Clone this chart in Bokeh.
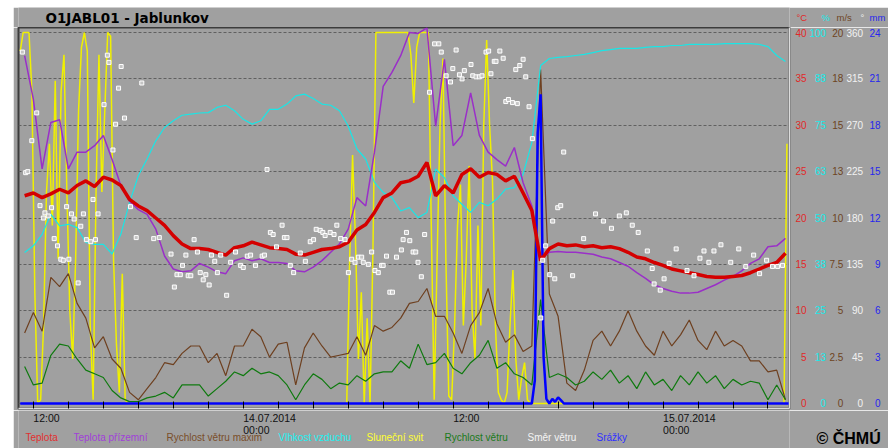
from bokeh.plotting import figure
from bokeh.layouts import column
from bokeh.models import Range1d, LinearAxis, FixedTicker, Label
from bokeh.embed import file_html
from bokeh.resources import INLINE

# ---------------- data: hours since 13.07.2014 00:00 ----------------
# 30-minute series
hours = [11.5 + 0.5 * i for i in range(88)]

teplota = [22.4, 22.7, 22.2, 22.6, 23.1, 22.7, 23.5, 24.0, 23.4, 24.4,
           24.1, 23.5, 22.0, 21.3, 20.8, 20.0, 19.2, 18.1, 17.2, 16.7,
           16.7, 16.6, 16.3, 16.0, 16.8, 17.0, 17.4, 17.1, 16.8, 16.7,
           16.6, 16.1, 16.0, 16.3, 16.6, 16.7, 16.9, 17.4, 18.7, 19.3,
           20.6, 22.2, 22.7, 23.8, 24.0, 24.5, 26.0, 22.4, 23.5, 22.7,
           24.7, 25.3, 24.4, 24.9, 24.7, 24.0, 24.5, 22.7, 20.8, 15.4,
           16.7, 17.2, 17.0, 17.1, 16.9, 17.0, 16.8, 16.9, 16.7, 16.3,
           15.8, 15.6, 15.2, 14.9, 14.5, 14.3, 14.1, 13.9, 13.7, 13.6,
           13.6, 13.7, 13.8, 14.1, 14.5, 14.9, 15.2, 16.2]

teplota_prizemni = [37.5, 32.8, 25.3, 30.3, 30.6, 25.3, 27.1, 27.1, 27.8, 28.9,
                    26.3, 23.5, 21.8, 20.9, 20.4, 18.8, 15.9, 14.5, 14.2, 14.3,
                    15.1, 14.7, 14.2, 14.0, 15.4, 15.7, 15.4, 15.6, 15.2, 15.2,
                    15.1, 14.3, 14.2, 14.7, 15.4, 16.3, 17.2, 18.8, 22.2, 21.3,
                    27.1, 34.2, 35.7, 37.5, 40.0, 39.9, 40.5, 29.9, 37.1, 27.8,
                    28.9, 33.5, 28.9, 27.1, 26.3, 25.6, 27.6, 23.8, 21.3, 15.6,
                    16.3, 16.4, 16.3, 16.3, 16.2, 16.1, 15.8, 15.6, 15.2, 14.8,
                    14.1, 13.5, 12.8, 12.4, 12.1, 11.9, 11.9, 12.0, 12.4, 12.8,
                    13.3, 13.7, 14.3, 15.1, 15.6, 16.9, 17.0, 17.8]

vlhkost = [40.7, 42.5, 45.6, 51.0, 47.9, 48.3, 47.4, 43.4, 42.9, 42.9,
           40.3, 45.6, 54.2, 61.4, 65.9, 70.8, 74.4, 76.2, 77.7, 78.0,
           78.3, 78.4, 79.8, 80.4, 78.9, 76.6, 75.3, 76.2, 79.3, 79.3,
           80.7, 82.9, 83.4, 82.2, 80.7, 80.4, 78.9, 74.8, 68.6, 65.9,
           59.6, 56.9, 55.5, 51.9, 52.8, 50.1, 51.5, 63.2, 60.9, 56.0,
           53.7, 51.5, 54.2, 53.3, 55.1, 57.8, 58.2, 61.8, 70.4, 91.1,
           93.0, 93.3, 93.5, 93.8, 94.1, 94.6, 95.1, 95.4, 95.7, 95.7,
           95.7, 96.0, 96.2, 96.2, 96.5, 96.5, 96.8, 96.8, 96.8, 96.8,
           97.0, 97.0, 97.0, 97.0, 96.8, 96.2, 93.8, 92.2]

vitr_max = [3.8, 4.9, 3.9, 6.8, 6.3, 7.0, 5.4, 4.6, 3.0, 3.6,
            2.4, 1.9, 0.6, 0.2, 0.8, 1.4, 2.2, 2.1, 2.7, 3.1,
            3.1, 2.2, 2.7, 1.5, 3.1, 3.1, 4.0, 3.6, 2.5, 3.2,
            3.3, 1.0, 3.0, 3.8, 3.1, 2.5, 2.6, 2.7, 3.6, 2.6,
            4.2, 3.9, 4.1, 4.6, 5.4, 5.5, 6.2, 4.7, 4.7, 3.8,
            2.7, 4.2, 4.9, 6.2, 4.3, 3.3, 3.7, 2.8, 3.1, 18.0,
            5.9, 4.7, 1.1, 0.7, 1.8, 3.4, 3.9, 3.1, 3.9, 5.0,
            3.9, 3.1, 2.6, 3.9, 3.1, 3.7, 4.5, 3.4, 2.9, 3.9,
            3.1, 3.4, 3.1, 2.3, 2.3, 1.7, 1.8, 0.2]

vitr = [2.0, 1.0, 1.1, 2.6, 3.2, 3.1, 2.4, 1.8, 1.6, 1.4,
        0.7, 0.3, 0.1, 0.1, 0.3, 0.4, 0.6, 0.3, 1.0, 1.0,
        1.0, 0.4, 0.8, 1.2, 1.7, 1.5, 1.9, 1.6, 1.7, 1.5,
        1.0, 0.2, 1.0, 1.6, 1.3, 0.8, 1.1, 1.0, 1.5, 1.2,
        1.6, 1.7, 1.7, 2.3, 1.9, 3.2, 2.1, 2.2, 2.7, 1.9,
        1.6, 2.2, 2.6, 3.4, 1.9, 2.2, 1.6, 1.4, 1.0, 5.6,
        1.4, 1.6, 1.4, 1.0, 1.2, 1.7, 1.3, 1.8, 1.1, 1.5,
        0.8, 1.7, 1.0, 1.3, 0.7, 1.5, 1.0, 1.7, 1.1, 1.5,
        0.8, 1.3, 1.0, 1.2, 1.1, 0.2, 1.0, 0.2]

# precipitation (mm) around the storm, zero elsewhere
rain_hours = [11.25, 40.5, 40.67, 40.83, 41.0, 41.17, 41.33, 41.5, 41.67, 41.83,
              42.0, 42.17, 42.33, 42.5, 55.2]
srazky = [0.0, 0.0, 1.5, 17.5, 20.0, 3.0, 0.3, 0.0, 0.3, 0.1,
          0.4, 0.2, 0.0, 0.0, 0.0]

# 10-minute sunshine series (fraction of interval with sunshine, 0..1)
sun_hours = [11.25 + k / 6 for k in range(264)]
svit_rano = [0.95, 1.0, 1.0, 1.0, 0.84, 0.30, 0.0, 0.01, 0.21, 0.57,
             0.70, 0.48, 0.87, 0.39, 0.84, 0.94, 0.57, 0.25, 0.12, 0.39,
             0.79, 0.96, 1.0, 0.95, 0.21, 0.01, 0.57, 0.94, 0.57, 0.79,
             1.0, 0.99, 0.39, 0.16, 0.03, 0.35, 0.01]
svit_den = [0.39, 0.67, 0.44, 0.12, 0.30, 0.0, 0.23, 0.0, 0.42, 1.0,
            1.0, 1.0, 1.0, 1.0, 1.0, 1.0, 1.0, 1.0, 1.0, 1.0,
            1.0, 0.94, 0.81, 0.96, 1.0, 1.0, 1.0, 1.0, 0.48, 0.01,
            0.39, 0.75, 0.93, 0.39, 0.02, 0.01, 0.21, 0.48, 0.59, 0.21,
            0.39, 0.64, 0.25, 0.12, 0.48, 0.21, 0.75, 0.98, 0.75, 0.60,
            0.21, 0.03, 0.01, 0.0, 0.03, 0.21, 0.36, 0.12, 0.01, 0.07,
            0.11, 0.01, 0.0, 0.0]
svit = svit_rano + [0.0] * 76 + svit_den + [0.0] * 86 + [0.7]

# wind direction samples (hour, degrees)
smer_hours = [11.37, 11.56, 11.68, 11.91, 12.19, 12.38, 12.57, 12.66, 12.85, 13.04,
              13.19, 13.38, 13.57, 13.71, 13.90, 14.03, 14.18, 14.33, 14.56, 14.71,
              14.86, 15.03, 15.28, 15.41, 15.55, 15.70, 16.04, 16.23, 16.32, 16.55,
              16.70, 16.87, 17.02, 17.21, 17.55, 17.88, 18.20, 18.88, 19.20, 19.87,
              20.06, 20.21, 20.40, 20.53, 20.72, 20.85, 21.00, 21.19, 21.38, 21.54,
              21.71, 21.86, 22.05, 22.18, 22.37, 22.52, 22.71, 23.05, 23.28, 23.56,
              23.85, 24.00, 24.23, 24.42, 24.70, 25.08, 25.21, 25.36, 25.55, 25.71,
              25.90, 26.22, 26.35, 26.50, 26.69, 26.88, 27.26, 27.55, 27.83, 28.02,
              28.17, 28.40, 28.55, 28.68, 28.97, 29.19, 29.35, 29.57, 29.82, 30.01,
              30.20, 30.39, 30.58, 30.77, 30.86, 31.15, 31.34, 31.53, 31.72, 31.91,
              32.00, 32.19, 32.38, 32.53, 32.76, 33.04, 33.14, 33.33, 33.52, 33.71,
              33.86, 33.99, 34.18, 34.37, 34.65, 34.94, 35.18, 35.32, 35.60, 35.85,
              35.98, 36.17, 36.36, 36.51, 36.64, 37.02, 37.12, 37.31, 37.50, 37.65,
              37.88, 38.03, 38.16, 38.35, 38.45, 38.67, 38.86, 39.01, 39.16, 39.39,
              39.58, 39.67, 39.81, 40.00, 40.15, 40.34, 40.53, 41.01, 41.12, 41.29,
              41.52, 41.69, 41.81, 41.98, 42.15, 42.32, 42.83, 43.46, 44.14, 44.59,
              45.05, 45.50, 45.90, 46.24, 46.58, 47.10, 47.38, 47.49, 47.84, 48.06,
              48.35, 48.75, 49.37, 49.77, 50.11, 50.34, 50.62, 50.91, 51.31, 51.87,
              52.33, 52.73, 53.18, 53.52, 53.92, 54.26, 54.55, 54.83]
smer = [341, 224, 225, 255, 282, 192, 180, 185, 182, 190,
        160, 153, 140, 139, 191, 140, 184, 179, 117, 172,
        184, 159, 157, 198, 159, 184, 290, 338, 331, 246,
        271, 306, 327, 277, 191, 161, 311, 160, 161, 145,
        113, 125, 125, 134, 144, 124, 124, 159, 147, 127,
        120, 125, 115, 144, 138, 127, 144, 105, 137, 147,
        134, 132, 143, 144, 134, 143, 144, 227, 166, 164,
        152, 173, 161, 161, 134, 127, 146, 138, 157, 159,
        169, 168, 166, 163, 166, 164, 173, 160, 159, 127,
        140, 137, 142, 142, 137, 135, 147, 129, 127, 134,
        134, 143, 108, 108, 142, 149, 159, 166, 158, 147,
        147, 137, 123, 164, 302, 349, 349, 341, 318, 312,
        325, 343, 319, 315, 323, 329, 318, 317, 317, 318,
        341, 342, 320, 332, 332, 342, 335, 293, 295, 292,
        324, 291, 328, 334, 317, 288, 257, 83, 139, 153,
        125, 177, 121, 190, 192, 244, 124, 160, 184, 177,
        170, 182, 185, 173, 166, 148, 131, 116, 110, 121,
        136, 150, 129, 124, 141, 148, 137, 148, 154, 137,
        150, 133, 144, 126, 139, 133, 133, 134]

# axis ticks / labels
time_ticks = [12 + 2 * i for i in range(22)]
time_label_hours = [12, 24, 36, 48]
time_label_texts = ["12:00", "14.07.2014\n00:00", "12:00", "15.07.2014\n00:00"]

temp_ticks = [0, 5, 10, 15, 20, 25, 30, 35, 40]
temp_labels = ["0", "5", "10", "15", "20", "25", "30", "35", "40"]
hum_ticks = [0, 12.5, 25, 37.5, 50, 62.5, 75, 87.5, 100]
hum_labels = ["0", "13", "25", "38", "50", "63", "75", "88", "100"]
wind_ticks = [0, 2.5, 5, 7.5, 10, 12.5, 15, 17.5, 20]
wind_labels = ["0", "2.5", "5", "7.5", "10", "13", "15", "18", "20"]
dir_ticks = [0, 45, 90, 135, 180, 225, 270, 315, 360]
dir_labels = ["0", "45", "90", "135", "180", "225", "270", "315", "360"]
rain_ticks = [0, 3, 6, 9, 12, 15, 18, 21, 24]
rain_labels = ["0", "3", "6", "9", "12", "15", "18", "21", "24"]
unit_names = ["°C", "%", "m/s", "°", "mm"]

legend_names = ["Teplota", "Teplota přízemní", "Rychlost větru maxim", "Vlhkost vzduchu",
                "Sluneční svit", "Rychlost větru", "Směr větru", "Srážky"]

# ---------------- styling ----------------
BG = "#a0a0a0"
FONT = "Liberation Sans"
C_RED, C_PURPLE, C_BROWN, C_CYAN = "#d40000", "#9a2fc8", "#6e4020", "#19e6e6"
C_YELLOW, C_GREEN, C_BLUE = "#f0f000", "#0f7a0f", "#0000ff"
AX_COLORS = ["#e02828", "#18eaea", "#6e4422", "#f2f2f2", "#2626ee"]
W = 875
LEFT, RIGHT = 5, 95          # borders of the plot frames inside the canvas


def pad(labels):
    """right-align labels by prefixing figure / punctuation spaces"""
    nd = [sum(ch.isdigit() for ch in s) for s in labels]
    nq = [s.count(".") for s in labels]
    D, Q = max(nd), max(nq)
    return ["\u2007" * (D - d) + "\u2008" * (Q - q) + s for s, d, q in zip(labels, nd, nq)]


PAD = 0.0135
def rng(lo, hi):
    span = hi - lo
    return Range1d(lo - PAD * span, hi + PAD * span)


def quiet_axis(**kw):
    base = dict(major_tick_in=0, major_tick_out=0, minor_tick_in=0, minor_tick_out=0,
                axis_line_color=None)
    base.update(kw)
    return LinearAxis(**base)


X0, X1 = 11.15, 55.23
x_range = Range1d(X0, X1)


def strip(height):
    s = figure(width=W, height=height, x_range=x_range, y_range=Range1d(0, height),
               output_backend="svg", toolbar_location=None,
               x_axis_location=None, y_axis_location=None,
               min_border_left=LEFT, min_border_right=RIGHT, min_border_top=0, min_border_bottom=0,
               background_fill_color=BG, border_fill_color=BG, outline_line_color=None)
    s.title = None
    s.grid.visible = False
    return s


# ---------------- main plot ----------------
p = figure(width=W, height=383, x_range=x_range, y_range=rng(0, 40),
           output_backend="svg", toolbar_location=None, y_axis_location=None,
           min_border_left=LEFT, min_border_right=RIGHT, min_border_top=0, min_border_bottom=2,
           background_fill_color=BG, border_fill_color=BG,
           outline_line_color="#3c3c3c", outline_line_width=2)
p.title = None

p.extra_y_ranges = {"hum": rng(0, 100), "wind": rng(0, 20), "dir": rng(0, 360),
                    "rain": rng(0, 24), "sun": rng(0, 1)}

p.xgrid.visible = False
p.ygrid.ticker = FixedTicker(ticks=temp_ticks)
p.ygrid.grid_line_color = "#606060"
p.ygrid.grid_line_dash = "3 2"
p.ygrid.grid_line_width = 1

xa = p.xaxis[0]
xa.ticker = FixedTicker(ticks=time_ticks)
xa.major_label_overrides = {t: "" for t in time_ticks}
xa.major_label_text_font_size = "0px"
xa.major_label_standoff = 0
xa.major_tick_in = 7
xa.major_tick_out = 0
xa.minor_tick_in = 0
xa.minor_tick_out = 0
xa.major_tick_line_color = "#000000"
xa.axis_line_color = "#dcdcdc"
xa.axis_line_width = 1.5

axes_spec = [
    ("default", temp_ticks, temp_labels, 6),
    ("hum", hum_ticks, hum_labels, 0),
    ("wind", wind_ticks, wind_labels, 0),
    ("dir", dir_ticks, dir_labels, 0),
    ("rain", rain_ticks, rain_labels, 3),
]
for i, ((rname, ticks, labels, standoff), color) in enumerate(zip(axes_spec, AX_COLORS)):
    ax = quiet_axis(y_range_name=rname, ticker=FixedTicker(ticks=ticks),
                    major_label_overrides=dict(zip(ticks, pad(labels))),
                    major_label_text_color=color, major_label_text_font=FONT,
                    major_label_text_font_size="10px", major_label_standoff=standoff)
    if i == 0:
        ax.axis_line_color = "#dcdcdc"
        ax.axis_line_width = 1.5
    p.add_layout(ax, "right")

p.line(sun_hours, svit, y_range_name="sun", line_color=C_YELLOW, line_width=1.5)
p.line(hours, vitr_max, y_range_name="wind", line_color=C_BROWN, line_width=1.2)
p.line(hours, vitr, y_range_name="wind", line_color=C_GREEN, line_width=1.2)
p.line(hours, vlhkost, y_range_name="hum", line_color=C_CYAN, line_width=1.2)
p.line(hours, teplota_prizemni, line_color=C_PURPLE, line_width=1.5)
p.line(rain_hours, srazky, y_range_name="rain", line_color=C_BLUE, line_width=2.5)
p.line(hours, teplota, line_color=C_RED, line_width=3.5)
p.scatter(smer_hours, smer, y_range_name="dir", marker="square", size=4,
          fill_color="#c4c4c4", line_color="#ffffff", line_width=1)

# ---------------- top strip: title and unit headers ----------------
top = strip(20)
top.add_layout(Label(x=27, y=9.5, x_units="screen", y_units="screen", text="O1JABL01 - Jablunkov",
                     text_font="DejaVu Sans", text_font_style="bold", text_font_size="13.5px",
                     text_color="#000000", text_baseline="middle"))
for txt, col, standoff in zip(unit_names, AX_COLORS, [7, 11, 4, 6, 2]):
    top.add_layout(quiet_axis(ticker=FixedTicker(ticks=[10]), major_label_overrides={10: txt},
                              major_label_text_color=col, major_label_text_font=FONT,
                              major_label_text_font_size="9.5px", major_label_standoff=standoff),
                   "right")

# ---------------- bottom strip: time labels, legend, copyright ----------------
bottom = strip(38)
for h, txt in zip(time_label_hours, time_label_texts):
    bottom.add_layout(Label(x=h, y=37, x_units="data", y_units="screen", text=txt,
                            text_align="left", text_baseline="top", text_font=FONT,
                            text_font_size="10.5px", text_color="#111111",
                            text_line_height=1.05))

legend_colors = ["#e03030", "#a040d8", "#7a4e2a", "#20f0f0", "#ffff30", "#1a7a1a", "#f4f4f4", "#3030ff"]
legend_x = [7, 55, 148, 260, 348, 426, 509, 578]
for txt, col, sx in zip(legend_names, legend_colors, legend_x):
    bottom.add_layout(Label(x=sx, y=11, x_units="screen", y_units="screen", text=txt,
                            text_baseline="middle", text_font=FONT,
                            text_font_size="10px", text_color=col))
bottom.add_layout(quiet_axis(ticker=FixedTicker(ticks=[10]), major_label_overrides={10: "© ČHMÚ"},
                             major_label_text_color="#000000", major_label_text_font=FONT,
                             major_label_text_font_style="bold", major_label_text_font_size="16px",
                             major_label_standoff=27),
                  "right")

top.margin = (7, 0, 0, 13)
p.margin = (0, 0, 0, 13)
bottom.margin = (0, 0, 0, 13)
layout = column(top, p, bottom, spacing=0)

open("out.html", "w").write(file_html(layout, INLINE))
